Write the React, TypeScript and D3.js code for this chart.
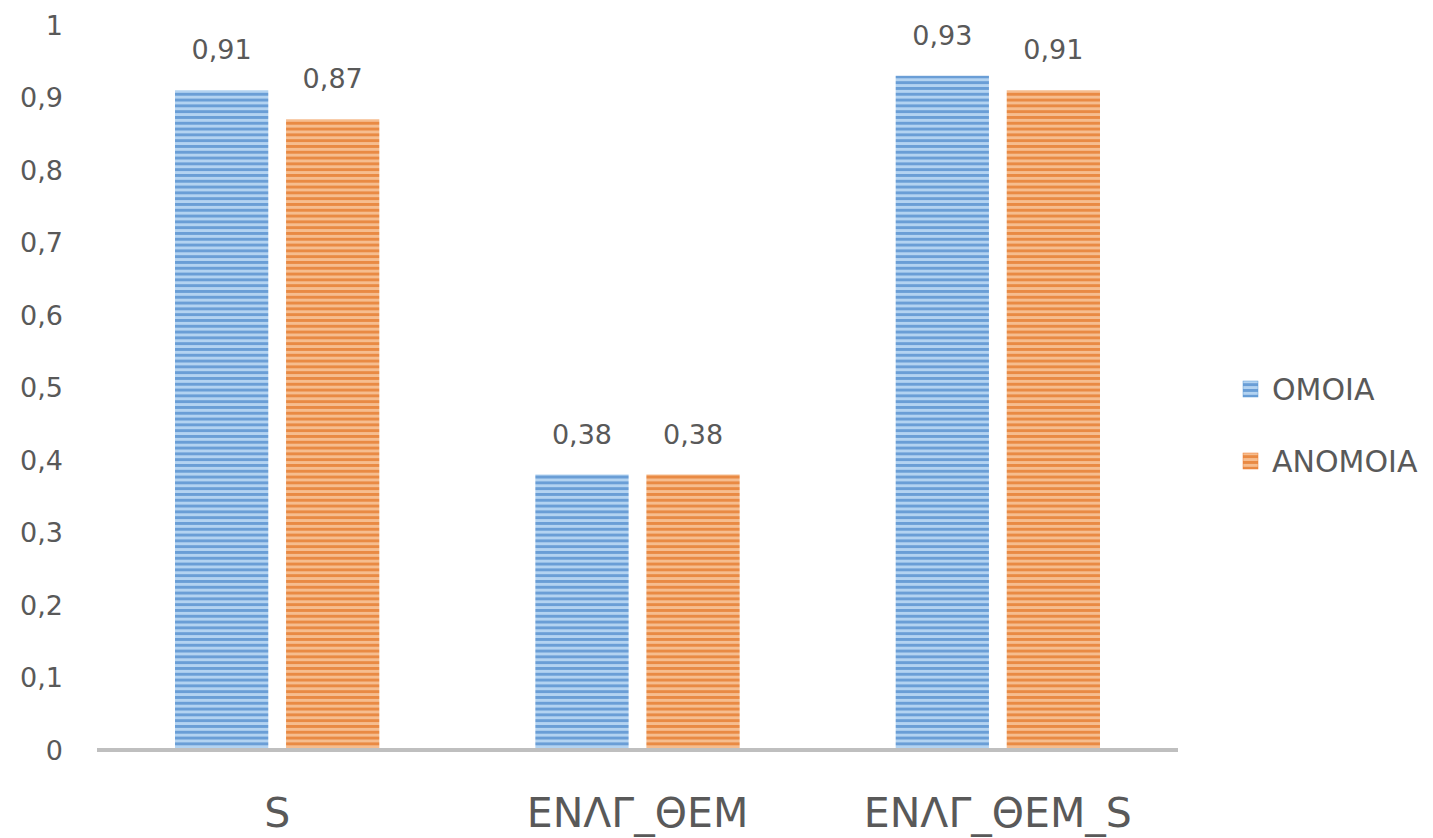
import React from "react";
import * as d3 from "d3";

const categories = ["S", "ΕΝΛΓ_ΘΕΜ", "ΕΝΛΓ_ΘΕΜ_S"];
const seriesNames = ["ΟΜΟΙΑ", "ΑΝΟΜΟΙΑ"];
const omoiaValues = [0.91, 0.38, 0.93];
const anomoiaValues = [0.87, 0.38, 0.91];
const yTicks = [0, 0.1, 0.2, 0.3, 0.4, 0.5, 0.6, 0.7, 0.8, 0.9, 1];

const W = 1433;
const H = 838;
const FONT = "'DejaVu Sans', 'Open Sans', sans-serif";
const TEXT = "#595959";

const fmt = (v: number) => String(v).replace(".", ",");

export default function App() {
  const y = d3.scaleLinear().domain([0, 1]).range([750, 25]);
  const x0 = d3
    .scaleBand<string>()
    .domain(categories)
    .range([97, 1178])
    .paddingInner(0.433)
    .paddingOuter(0.2165);
  const x1 = d3
    .scaleBand<string>()
    .domain(seriesNames)
    .range([0, x0.bandwidth()])
    .paddingInner(0.16);

  const seriesData = [omoiaValues, anomoiaValues];
  const patternIds = ["stripeBlue", "stripeOrange"];
  const legendColors = ["#5b9bd5", "#ed7d31"];

  return (
    <svg
      width={W}
      height={H}
      style={{ position: "absolute", left: 0, top: 0, background: "#fff" }}
      fontFamily={FONT}
    >
      <defs>
        <pattern id="stripeBlue" patternUnits="userSpaceOnUse" width={8} height={5.8}>
          <rect width={8} height={5.8} fill="#b3d3f1" />
          <rect width={8} height={2.9} fill="#6a9ed6" />
        </pattern>
        <pattern id="stripeOrange" patternUnits="userSpaceOnUse" width={8} height={5.8}>
          <rect width={8} height={5.8} fill="#f6bd8f" />
          <rect width={8} height={2.9} fill="#e98a44" />
        </pattern>
      </defs>

      {/* y tick labels */}
      {yTicks.map((t) => (
        <text
          key={t}
          x={63}
          y={y(t)}
          dy="0.36em"
          textAnchor="end"
          fontSize={27}
          fill={TEXT}
        >
          {fmt(t)}
        </text>
      ))}

      {/* bars */}
      {categories.map((c, ci) => (
        <g key={c} transform={`translate(${x0(c)},0)`}>
          {seriesNames.map((s, si) => {
            const v = seriesData[si][ci];
            const bx = x1(s)!;
            return (
              <g key={s}>
                <rect
                  x={bx}
                  y={y(v)}
                  width={x1.bandwidth()}
                  height={y(0) - y(v)}
                  fill={`url(#${patternIds[si]})`}
                />
                <text
                  x={bx + x1.bandwidth() / 2}
                  y={y(v) - 31}
                  textAnchor="middle"
                  fontSize={27}
                  fill={TEXT}
                >
                  {fmt(v)}
                </text>
              </g>
            );
          })}
        </g>
      ))}

      {/* x axis line */}
      <line x1={97} x2={1178} y1={y(0)} y2={y(0)} stroke="#bfbfbf" strokeWidth={4} />

      {/* category labels */}
      {categories.map((c) => (
        <text
          key={c}
          x={x0(c)! + x0.bandwidth() / 2}
          y={827}
          textAnchor="middle"
          fontSize={41}
          fill={TEXT}
        >
          {c}
        </text>
      ))}

      {/* legend */}
      {seriesNames.map((s, i) => (
        <g key={s} transform={`translate(1243,${389 + i * 72})`}>
          <rect x={0} y={-8} width={15} height={16} fill={`url(#${patternIds[i]})`} stroke={legendColors[i]} strokeWidth={0.5} />
          <text x={29} y={0} dy="0.36em" fontSize={30} fill={TEXT}>
            {s}
          </text>
        </g>
      ))}
    </svg>
  );
}
